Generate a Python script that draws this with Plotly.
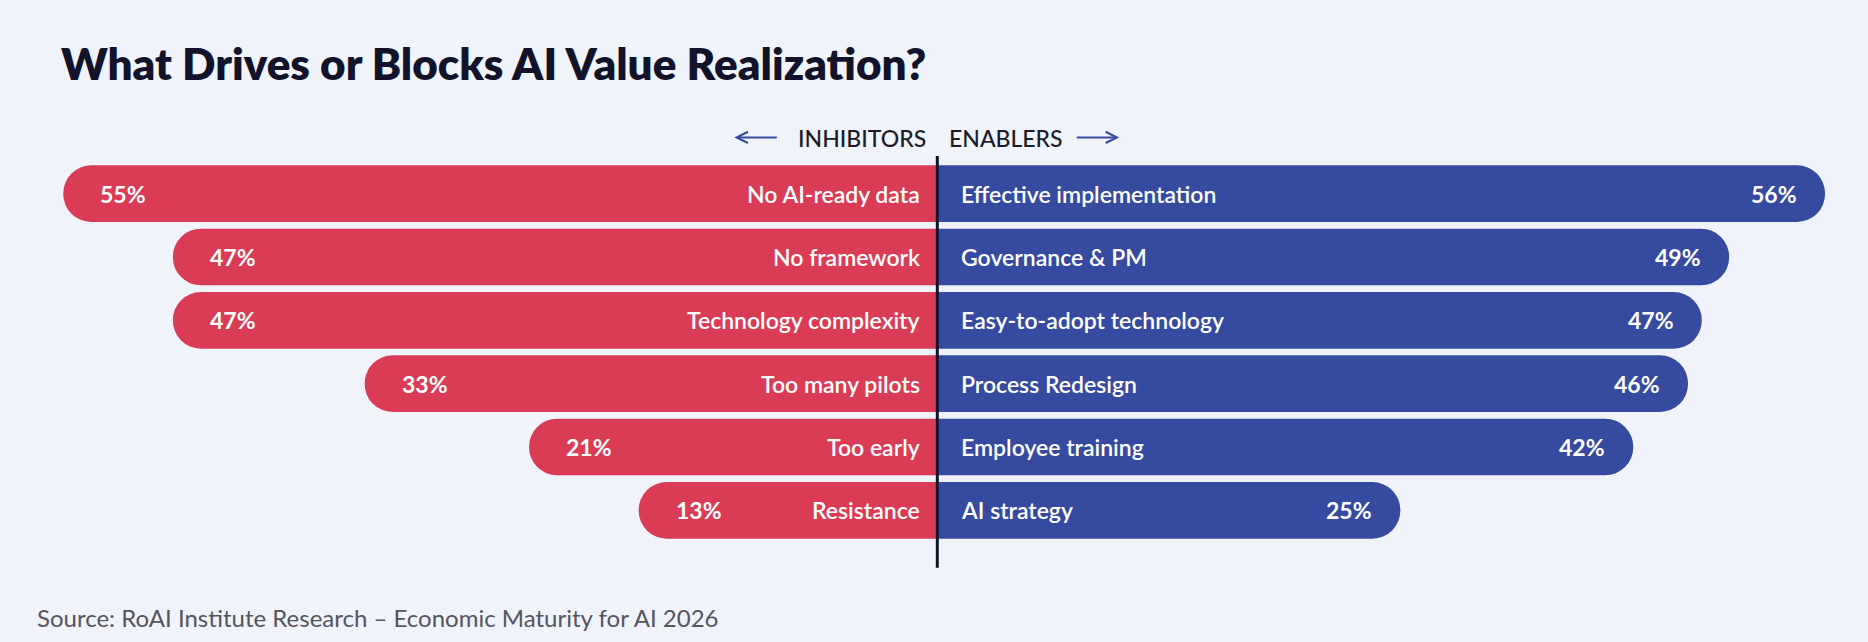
import plotly.graph_objects as go

# ---- data ----
inhibitors = ["No AI-ready data", "No framework", "Technology complexity",
              "Too many pilots", "Too early", "Resistance"]
inhibitor_values = [55, 47, 47, 33, 21, 13]
enablers = ["Effective implementation", "Governance & PM", "Easy-to-adopt technology",
            "Process Redesign", "Employee training", "AI strategy"]
enabler_values = [56, 49, 47, 46, 42, 25]

title_text = "What Drives or Blocks AI Value Realization?"
source_text = "Source: RoAI Institute Research \u2013 Economic Maturity for AI 2026"
left_header = "INHIBITORS"
right_header = "ENABLERS"

# ---- style ----
W, H = 1868, 642
BG = "#F0F3FA"
RED = "#DA3C55"
BLUE = "#364BA0"
DARK = "#12132B"
FONT = "Lato"

plot_top, plot_bot = 161.6, 542.2
plot_h = plot_bot - plot_top
center_px = 937.3
px_per_unit = 13.7
GUTTER = 8.8          # label gutter next to the centre line (axis units)
x_lo = -center_px / px_per_unit
x_hi = (W - center_px) / px_per_unit


def py(pix):
    """pixel row -> paper y"""
    return (plot_bot - pix) / plot_h


rows = list(range(len(inhibitors)))
n = len(rows)

# bars extend from the centre line: label gutter + value
left_ext = [-(v + GUTTER) for v in inhibitor_values]
right_ext = [v + GUTTER for v in enabler_values]

fig = go.Figure()
fig.add_trace(go.Bar(y=rows, x=left_ext, orientation="h",
                     marker=dict(color=RED, line=dict(width=0), cornerradius=28),
                     customdata=inhibitor_values, hoverinfo="skip", showlegend=False))
fig.add_trace(go.Bar(y=rows, x=right_ext, orientation="h",
                     marker=dict(color=BLUE, line=dict(width=0), cornerradius=28),
                     customdata=enabler_values, hoverinfo="skip", showlegend=False))

ann = []
lab_font = dict(family=FONT, size=23, color="white", weight=600)
pct_font = dict(family=FONT, size=23, color="white", weight=700)
for r, name, v, e in zip(rows, inhibitors, inhibitor_values, left_ext):
    ann.append(dict(x=0, y=r, xref="x", yref="y", text=name, showarrow=False,
                    xanchor="right", yanchor="middle", xshift=-15, font=lab_font))
    ann.append(dict(x=e, y=r, xref="x", yref="y", text=f"{v}%",
                    showarrow=False, xanchor="left", yanchor="middle", xshift=35,
                    font=pct_font))
for r, name, v, e in zip(rows, enablers, enabler_values, right_ext):
    ann.append(dict(x=0, y=r, xref="x", yref="y", text=name, showarrow=False,
                    xanchor="left", yanchor="middle", xshift=22, font=lab_font))
    ann.append(dict(x=e, y=r, xref="x", yref="y", text=f"{v}%",
                    showarrow=False, xanchor="right", yanchor="middle", xshift=-26,
                    font=pct_font))

# header
hdr_font = dict(family=FONT, size=23, color="#1C1C28", weight=500)
ann.append(dict(x=0, y=py(138), xref="x", yref="paper", text=left_header, showarrow=False,
                xanchor="right", yanchor="middle", xshift=-9, font=hdr_font))
ann.append(dict(x=0, y=py(138), xref="x", yref="paper", text=right_header, showarrow=False,
                xanchor="left", yanchor="middle", xshift=10, font=hdr_font))
# arrows
ann.append(dict(x=0, y=py(137), xref="x", yref="paper", text="", showarrow=True,
                xshift=-203, ax=44, ay=0, arrowhead=5, arrowsize=1.1, arrowwidth=2,
                arrowcolor=BLUE))
ann.append(dict(x=0, y=py(137), xref="x", yref="paper", text="", showarrow=True,
                xshift=182, ax=-44, ay=0, arrowhead=5, arrowsize=1.1, arrowwidth=2,
                arrowcolor=BLUE))

# title and source
ann.append(dict(x=59 / W, y=py(62), xref="paper", yref="paper", text=title_text,
                showarrow=False, xanchor="left", yanchor="middle",
                font=dict(family=FONT, size=44, color=DARK, weight=800)))
ann.append(dict(x=35 / W, y=py(618), xref="paper", yref="paper", text=source_text,
                showarrow=False, xanchor="left", yanchor="middle",
                font=dict(family=FONT, size=24, color="#555560", weight=400)))

fig.update_layout(
    width=W, height=H,
    margin=dict(l=0, r=0, t=plot_top, b=H - plot_bot, pad=0),
    paper_bgcolor=BG, plot_bgcolor=BG,
    barmode="overlay", bargap=0.106,
    xaxis=dict(range=[x_lo, x_hi], visible=False, fixedrange=True),
    yaxis=dict(range=[n - 0.5, -0.5], visible=False, fixedrange=True),
    annotations=ann,
    shapes=[dict(type="line", xref="x", yref="paper", x0=0, x1=0,
                 y0=py(568), y1=py(155.7), line=dict(color=DARK, width=3), layer="above")],
)

fig.write_html("out.html", config={"displayModeBar": False})
